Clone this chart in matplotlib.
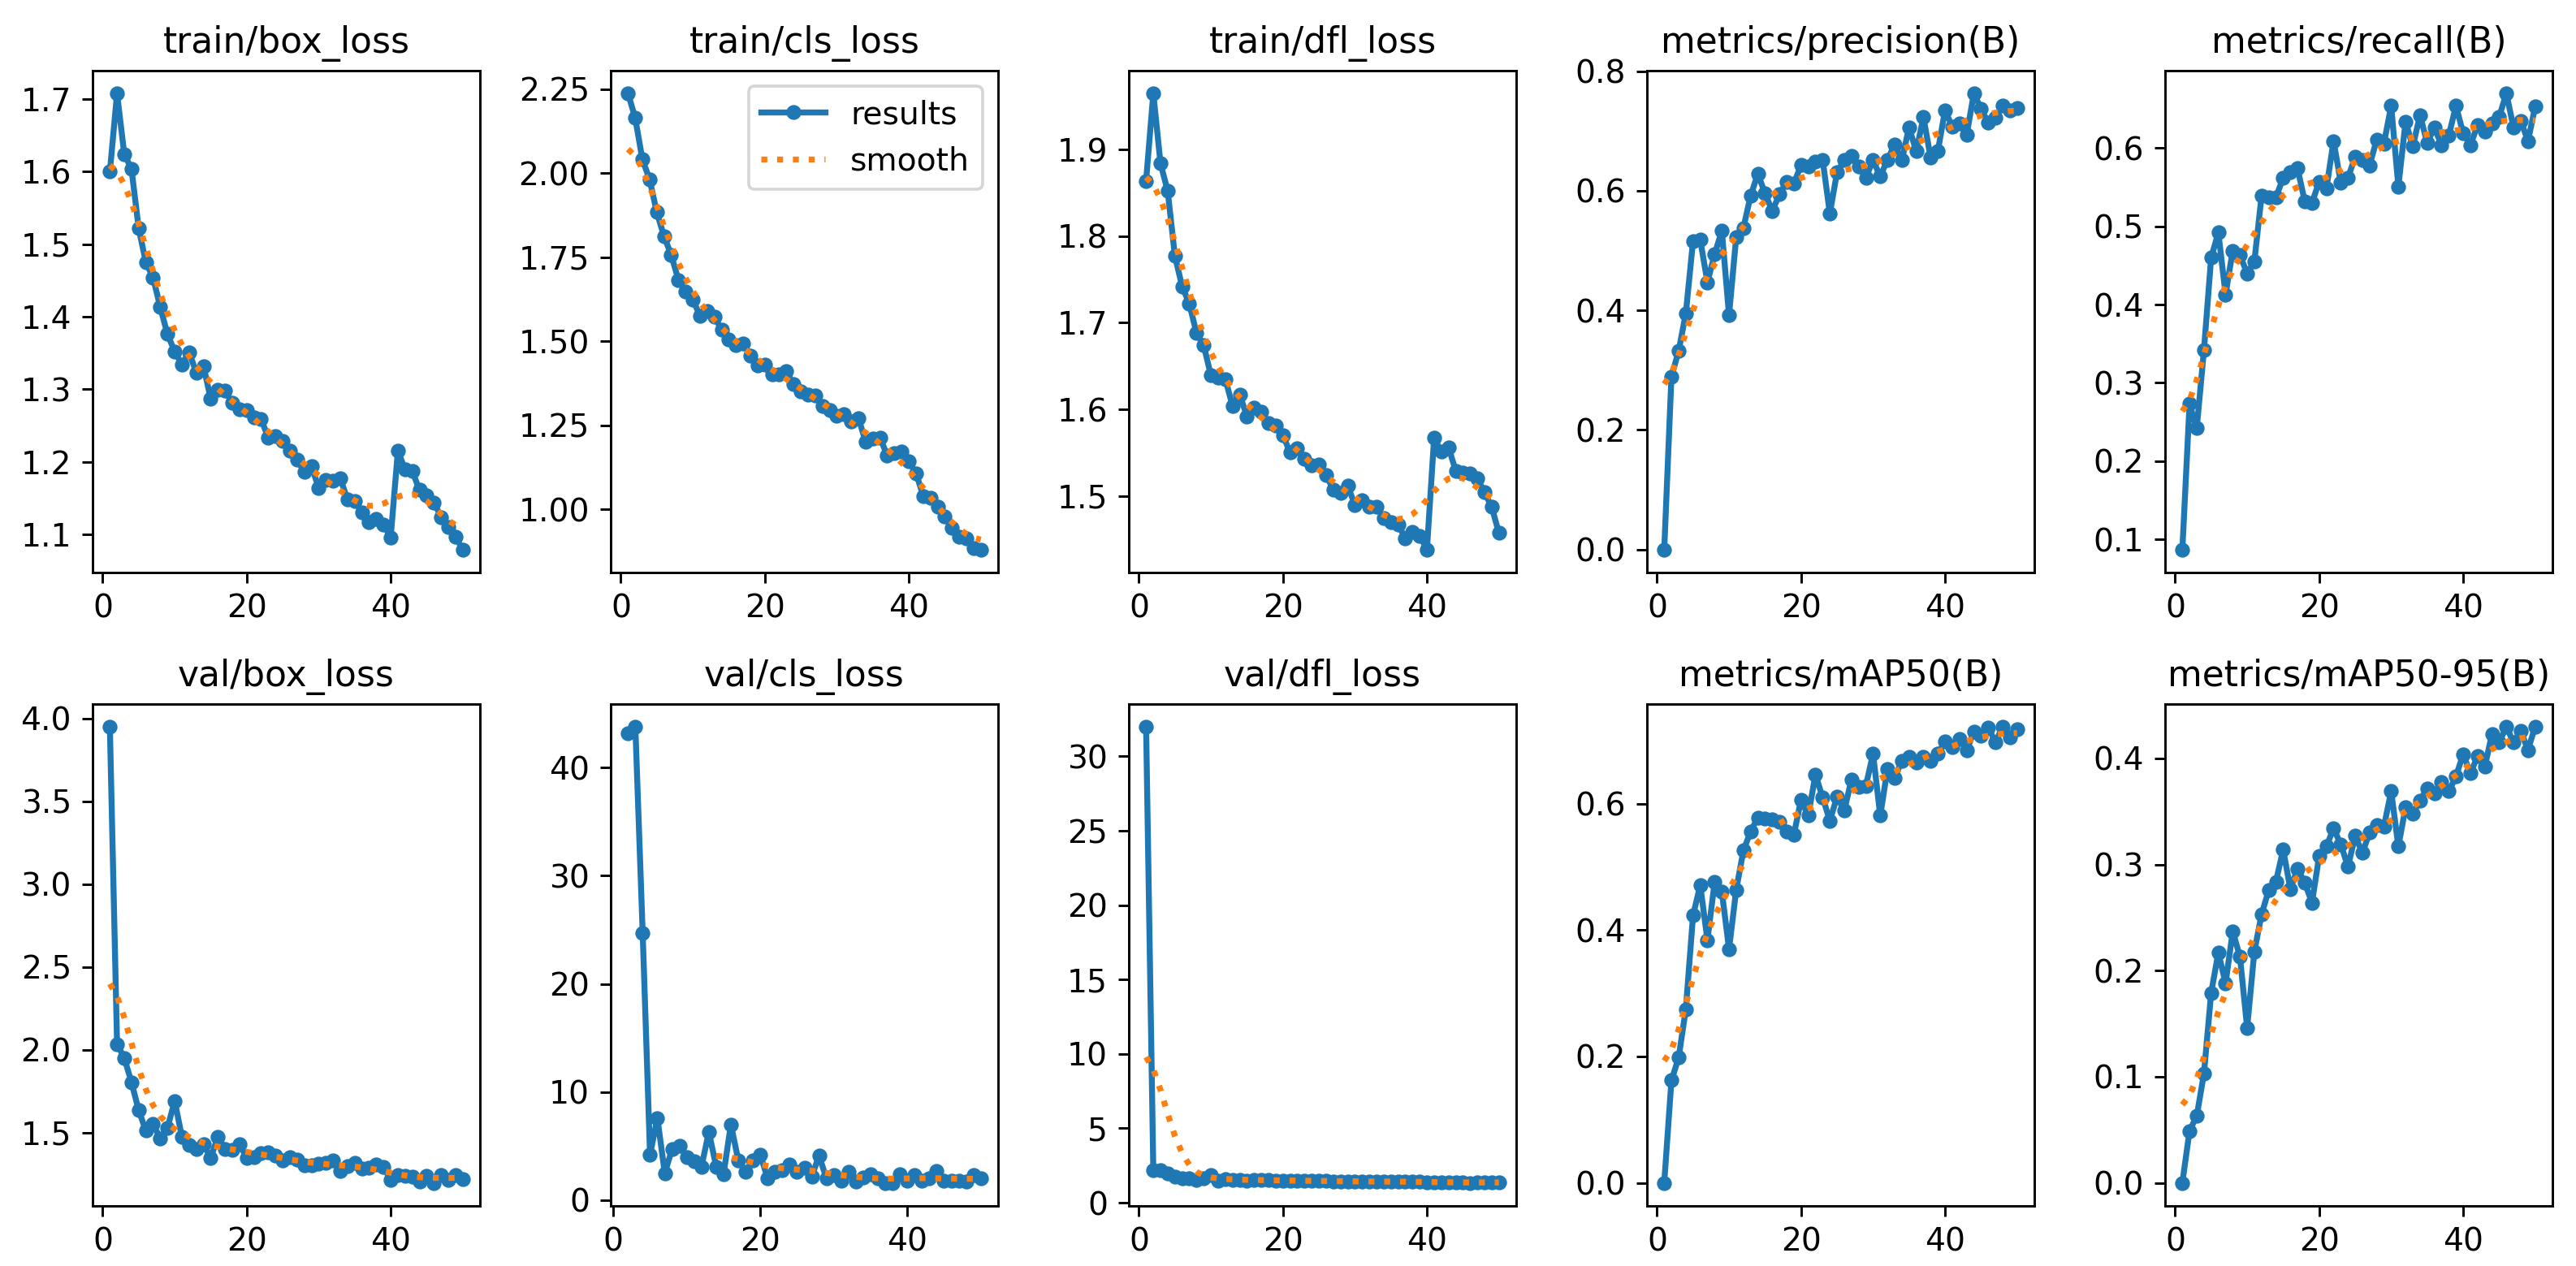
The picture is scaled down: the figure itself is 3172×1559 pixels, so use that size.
import numpy as np
import matplotlib
matplotlib.use("Agg")
import matplotlib.pyplot as plt
from matplotlib.ticker import MultipleLocator

epochs = list(range(1, 51))

titles = ["train/box_loss", "train/cls_loss", "train/dfl_loss",
          "metrics/precision(B)", "metrics/recall(B)",
          "val/box_loss", "val/cls_loss", "val/dfl_loss",
          "metrics/mAP50(B)", "metrics/mAP50-95(B)"]

train_box_loss = [1.600, 1.708, 1.624, 1.604, 1.522, 1.475, 1.454, 1.413, 1.376, 1.352,
                  1.334, 1.351, 1.323, 1.332, 1.287, 1.299, 1.298, 1.281, 1.272, 1.271,
                  1.261, 1.259, 1.233, 1.235, 1.229, 1.215, 1.203, 1.186, 1.194, 1.164,
                  1.175, 1.174, 1.177, 1.148, 1.146, 1.130, 1.117, 1.121, 1.113, 1.096,
                  1.215, 1.189, 1.187, 1.161, 1.154, 1.144, 1.124, 1.110, 1.097, 1.079]

train_cls_loss = [2.238, 2.165, 2.041, 1.982, 1.884, 1.813, 1.757, 1.683, 1.647, 1.624,
                  1.576, 1.589, 1.573, 1.535, 1.505, 1.488, 1.493, 1.457, 1.429, 1.430,
                  1.402, 1.402, 1.410, 1.372, 1.351, 1.340, 1.339, 1.307, 1.295, 1.278,
                  1.284, 1.261, 1.272, 1.201, 1.210, 1.213, 1.160, 1.166, 1.172, 1.143,
                  1.107, 1.040, 1.033, 1.007, 0.978, 0.944, 0.918, 0.913, 0.883, 0.880]

train_dfl_loss = [1.864, 1.965, 1.884, 1.852, 1.777, 1.742, 1.722, 1.688, 1.674, 1.639,
                  1.637, 1.635, 1.604, 1.617, 1.592, 1.602, 1.597, 1.584, 1.581, 1.570,
                  1.550, 1.555, 1.543, 1.535, 1.536, 1.524, 1.507, 1.503, 1.512, 1.489,
                  1.495, 1.487, 1.487, 1.474, 1.470, 1.467, 1.451, 1.458, 1.454, 1.438,
                  1.567, 1.551, 1.556, 1.529, 1.527, 1.526, 1.520, 1.504, 1.487, 1.457]

precision = [0.000, 0.289, 0.332, 0.395, 0.516, 0.518, 0.447, 0.494, 0.533, 0.392,
             0.523, 0.538, 0.592, 0.628, 0.596, 0.566, 0.594, 0.615, 0.612, 0.643,
             0.640, 0.649, 0.652, 0.562, 0.631, 0.651, 0.658, 0.640, 0.622, 0.651,
             0.624, 0.652, 0.677, 0.651, 0.706, 0.666, 0.723, 0.655, 0.666, 0.735,
             0.707, 0.713, 0.693, 0.763, 0.737, 0.714, 0.722, 0.743, 0.734, 0.739]

recall = [0.087, 0.273, 0.242, 0.342, 0.460, 0.492, 0.413, 0.469, 0.463, 0.440,
          0.455, 0.539, 0.537, 0.537, 0.562, 0.569, 0.574, 0.532, 0.530, 0.557,
          0.548, 0.609, 0.556, 0.562, 0.589, 0.585, 0.578, 0.611, 0.606, 0.654,
          0.551, 0.634, 0.602, 0.642, 0.607, 0.626, 0.604, 0.616, 0.654, 0.619,
          0.604, 0.629, 0.621, 0.632, 0.640, 0.670, 0.626, 0.635, 0.609, 0.653]

val_box_loss = [3.952, 2.036, 1.952, 1.805, 1.637, 1.512, 1.555, 1.464, 1.529, 1.693,
                1.476, 1.428, 1.404, 1.432, 1.348, 1.476, 1.404, 1.399, 1.432, 1.348,
                1.351, 1.379, 1.384, 1.363, 1.331, 1.351, 1.339, 1.302, 1.302, 1.312,
                1.319, 1.331, 1.271, 1.300, 1.319, 1.283, 1.288, 1.307, 1.295, 1.215,
                1.246, 1.239, 1.234, 1.205, 1.241, 1.198, 1.246, 1.215, 1.246, 1.222]

val_cls_loss = [np.nan, 43.2, 43.8, 24.7, 4.2, 7.6, 2.5, 4.7, 5.0, 4.0,
                3.6, 3.1, 6.3, 3.1, 2.4, 7.0, 3.7, 2.6, 3.7, 4.2,
                2.0, 2.6, 2.8, 3.3, 2.6, 3.0, 2.2, 4.1, 2.0, 2.3,
                1.8, 2.6, 1.7, 2.1, 2.4, 2.0, 1.6, 1.6, 2.4, 1.8,
                2.3, 1.8, 2.0, 2.7, 1.8, 1.8, 1.8, 1.7, 2.3, 2.0]

val_dfl_loss = [32.0, 2.21, 2.20, 1.97, 1.75, 1.67, 1.67, 1.56, 1.67, 1.88,
                1.48, 1.60, 1.52, 1.55, 1.50, 1.53, 1.52, 1.54, 1.50, 1.48,
                1.47, 1.49, 1.50, 1.47, 1.46, 1.47, 1.43, 1.45, 1.44, 1.42,
                1.43, 1.45, 1.41, 1.42, 1.43, 1.41, 1.42, 1.43, 1.41, 1.37,
                1.39, 1.37, 1.38, 1.35, 1.38, 1.34, 1.37, 1.35, 1.37, 1.36]

map50 = [0.000, 0.162, 0.198, 0.275, 0.423, 0.471, 0.384, 0.476, 0.461, 0.370,
         0.464, 0.526, 0.556, 0.578, 0.577, 0.575, 0.571, 0.556, 0.551, 0.606,
         0.581, 0.646, 0.610, 0.573, 0.611, 0.589, 0.638, 0.627, 0.628, 0.679,
         0.581, 0.655, 0.641, 0.668, 0.674, 0.665, 0.674, 0.668, 0.679, 0.699,
         0.689, 0.703, 0.684, 0.714, 0.707, 0.721, 0.697, 0.722, 0.705, 0.718]

map50_95 = [0.000, 0.049, 0.063, 0.103, 0.179, 0.217, 0.188, 0.237, 0.213, 0.146,
            0.218, 0.253, 0.276, 0.284, 0.314, 0.277, 0.296, 0.283, 0.264, 0.308,
            0.317, 0.334, 0.319, 0.298, 0.327, 0.311, 0.330, 0.337, 0.336, 0.369,
            0.317, 0.354, 0.348, 0.360, 0.372, 0.367, 0.378, 0.369, 0.383, 0.404,
            0.386, 0.402, 0.392, 0.423, 0.415, 0.430, 0.415, 0.426, 0.408, 0.430]

series = [train_box_loss, train_cls_loss, train_dfl_loss, precision, recall,
          val_box_loss, val_cls_loss, val_dfl_loss, map50, map50_95]

# y tick spacing per panel, as seen in the reference
ytick_steps = [0.1, 0.25, 0.1, 0.2, 0.1, 0.5, 10, 5, 0.2, 0.1]


def gaussian_smooth(y, sigma=3.0, truncate=4.0):
    """Same as scipy.ndimage.gaussian_filter1d (mode='reflect')."""
    y = np.asarray(y, dtype=float)
    r = int(truncate * sigma + 0.5)
    k = np.arange(-r, r + 1)
    w = np.exp(-0.5 * (k / sigma) ** 2)
    w /= w.sum()
    yp = np.pad(y, r, mode="symmetric")
    return np.convolve(yp, w, mode="valid")


fig, axes = plt.subplots(2, 5, figsize=(3172 / 264, 1559 / 264), dpi=264)
fig.subplots_adjust(left=0.0358, right=0.9910, top=0.9443, bottom=0.0477,
                    wspace=0.335, hspace=0.262)
axes = axes.ravel()
x = np.array(epochs)
for ax, t, y, step in zip(axes, titles, series, ytick_steps):
    y = np.asarray(y, dtype=float)
    ax.plot(x, y, marker=".", label="results", linewidth=2, markersize=8)
    ax.plot(x, gaussian_smooth(y), ":", label="smooth", linewidth=2)
    ax.set_title(t, fontsize=12)
    ax.tick_params(labelsize=10.7)
    ax.yaxis.set_major_locator(MultipleLocator(step))
    ax.xaxis.set_major_locator(MultipleLocator(20))
axes[1].legend(fontsize=10.7)

fig.savefig("out.png", dpi=264)
